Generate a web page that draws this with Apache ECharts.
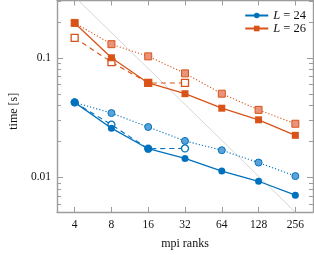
<!DOCTYPE html>
<html><head><meta charset="utf-8">
<script src="https://cdn.jsdelivr.net/npm/echarts@6/dist/echarts.min.js"></script>
<style>html,body{margin:0;padding:0;background:#fff}#c{width:314px;height:255px}</style>
</head><body><div id="c"></div>
<script>
var ranks = [4, 8, 16, 32, 64, 128, 256];
var ranksShort = [4, 8, 16, 32];
var xTickLabels = ['4', '8', '16', '32', '64', '128', '256'];
var l24Solid  = [0.0423, 0.0257, 0.0173, 0.01435, 0.01124, 0.00923, 0.00705];
var l24Dotted = [0.0423, 0.0344, 0.0263, 0.0201, 0.0168, 0.01324, 0.0102];
var l24Dashed = [0.0423, 0.0275, 0.0173, 0.0174];
var l26Solid  = [0.196, 0.100, 0.0615, 0.0500, 0.0378, 0.0302, 0.0224];
var l26Dotted = [0.196, 0.130, 0.1028, 0.0740, 0.0500, 0.0366, 0.0280];
var l26Dashed = [0.147, 0.092, 0.0615, 0.0615];
var idealRanks = [2, 512];
var idealTime = [0.65, 0.00254];
var yMinorTicks = [0.006, 0.007, 0.008, 0.009, 0.02, 0.03, 0.04, 0.05, 0.06, 0.07, 0.08, 0.09, 0.2, 0.3];

var X_MIN = 2.87, X_MAX = 357, Y_MIN = 0.0051, Y_MAX = 0.302;
var BLUE = '#0072BD', ORANGE = '#D95319';
var BLUE_L = '#5aa2d8', ORANGE_L = '#e9937a';
var FRAME = '#9c9c9c';
var FONT = 'Liberation Serif';

function pairs(xs, ys) { return xs.map(function (x, i) { return [x, ys[i]]; }); }

var chart = echarts.init(document.getElementById('c'), null, {renderer: 'canvas'});
var axisCommonX = {
  type: 'log', logBase: 2, min: X_MIN, max: X_MAX,
  axisLine: {show: true, lineStyle: {color: FRAME, width: 1.4}},
  axisTick: {show: true, inside: true, length: 5, lineStyle: {color: FRAME, width: 1}},
  splitLine: {show: false}
};
var axisCommonY = {
  type: 'log', logBase: 10, min: Y_MIN, max: Y_MAX,
  axisLine: {show: true, lineStyle: {color: FRAME, width: 1.4}},
  axisTick: {show: true, inside: true, length: 6, lineStyle: {color: FRAME, width: 1}},
  splitLine: {show: false}
};

var option = {
  animation: false,
  grid: {left: 51, right: 1, top: 0.5, bottom: 37, containLabel: false},
  xAxis: [
    Object.assign({}, axisCommonX, {
      position: 'bottom',
      name: 'mpi ranks', nameLocation: 'middle', nameGap: 26,
      nameTextStyle: {fontFamily: FONT, fontSize: 12, color: '#111'},
      axisLabel: {showMinLabel: false, showMaxLabel: false, margin: 7,
        fontFamily: FONT, fontSize: 11.5, color: '#111',
        formatter: function (v) { var i = ranks.indexOf(Math.round(v)); return i >= 0 ? xTickLabels[i] : ''; }}
    }),
    Object.assign({}, axisCommonX, {position: 'top', axisLabel: {show: false}})
  ],
  yAxis: [
    Object.assign({}, axisCommonY, {
      position: 'left',
      name: 'time [s]', nameLocation: 'middle', nameGap: 37, nameRotate: 90,
      nameTextStyle: {fontFamily: FONT, fontSize: 12, color: '#111', padding: [0, 0, 0, -10]},
      axisLabel: {showMinLabel: false, showMaxLabel: false, margin: 6,
        fontFamily: FONT, fontSize: 11.5, color: '#111',
        formatter: function (v) { return v >= 0.05 ? '0.1' : '0.01'; }}
    }),
    Object.assign({}, axisCommonY, {position: 'right', axisLabel: {show: false}})
  ],
  legend: {
    data: ['L = 24', 'L = 26'],
    orient: 'vertical', right: 8, top: 9,
    itemWidth: 23, itemHeight: 7, itemGap: 0, padding: [0, 0, 0, 0],
    textStyle: {fontFamily: FONT, fontSize: 12.5, color: '#111', lineHeight: 12,
      rich: {i: {fontStyle: 'italic', fontFamily: FONT, fontSize: 12.5}, r: {fontFamily: FONT, fontSize: 12.5}}},
    formatter: function (n) { return '{i|L}{r|' + n.slice(1) + '}'; }
  },
  series: [
    {name: 'ideal', type: 'line', data: pairs(idealRanks, idealTime), symbol: 'none',
      lineStyle: {color: '#c4c4c4', width: 0.7}, silent: true, z: 1},
    {name: 'minor', type: 'custom', data: yMinorTicks.map(function (v) { return [X_MIN, v]; }),
      silent: true, z: 5, clip: false,
      renderItem: function (params, api) {
        var p = api.coord([X_MIN, api.value(1)]);
        var cs = params.coordSys;
        var st = {stroke: FRAME, lineWidth: 1};
        return {type: 'group', children: [
          {type: 'line', shape: {x1: cs.x, y1: Math.round(p[1]) + 0.5, x2: cs.x + 4, y2: Math.round(p[1]) + 0.5}, style: st},
          {type: 'line', shape: {x1: cs.x + cs.width - 4, y1: Math.round(p[1]) + 0.5, x2: cs.x + cs.width, y2: Math.round(p[1]) + 0.5}, style: st}
        ]};
      }},
    {name: 'L24 dashed', type: 'line', data: pairs(ranksShort, l24Dashed), symbol: 'circle', symbolSize: 7,
      itemStyle: {color: '#fff', borderColor: BLUE, borderWidth: 1.3},
      lineStyle: {color: BLUE, width: 1.1, type: [5, 4]}, z: 3},
    {name: 'L26 dashed', type: 'line', data: pairs(ranksShort, l26Dashed), symbol: 'rect', symbolSize: 7,
      itemStyle: {color: '#fff', borderColor: ORANGE, borderWidth: 1.3},
      lineStyle: {color: ORANGE, width: 1.1, type: [5, 4]}, z: 3},
    {name: 'L24 dotted', type: 'line', data: pairs(ranks, l24Dotted), symbol: 'circle', symbolSize: 7,
      itemStyle: {color: BLUE_L, borderColor: BLUE, borderWidth: 1},
      lineStyle: {color: BLUE, width: 1.1, type: [1.2, 2]}, z: 4},
    {name: 'L26 dotted', type: 'line', data: pairs(ranks, l26Dotted), symbol: 'rect', symbolSize: 7,
      itemStyle: {color: ORANGE_L, borderColor: ORANGE, borderWidth: 1},
      lineStyle: {color: ORANGE, width: 1.1, type: [1.2, 2]}, z: 4},
    {name: 'L = 24', type: 'line', data: pairs(ranks, l24Solid), symbol: 'circle', symbolSize: 7,
      itemStyle: {color: BLUE}, lineStyle: {color: BLUE, width: 1.3}, z: 6},
    {name: 'L = 26', type: 'line', data: pairs(ranks, l26Solid), symbol: 'rect', symbolSize: 7,
      itemStyle: {color: ORANGE}, lineStyle: {color: ORANGE, width: 1.3}, z: 6}
  ]
};
chart.setOption(option);
</script>
</body></html>
